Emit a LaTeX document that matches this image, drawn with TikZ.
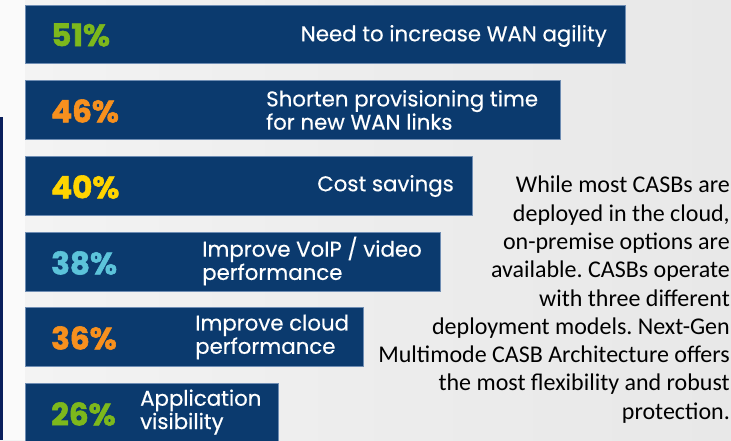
\documentclass[tikz,border=0pt]{standalone}
\usepackage{fontspec}
\setmainfont{Carlito}
\newfontfamily\pop{Poppins}[UprightFeatures={FakeBold=0.4}]
\newfontfamily\popheavy{Poppins}[BoldFeatures={FakeBold=1.8}]
\definecolor{barblue}{HTML}{0B3A6E}
\definecolor{baredge}{HTML}{6F8DB3}
\definecolor{pgreen}{HTML}{7DB81C}
\definecolor{porange}{HTML}{F7901E}
\definecolor{pyellow}{HTML}{FFD400}
\definecolor{pblue}{HTML}{5CC3DA}
\definecolor{navyline}{HTML}{0A1F5C}
\definecolor{bgg}{HTML}{E8E8E8}
\begin{document}
\frenchspacing
\begin{tikzpicture}[x=1pt,y=-1pt,
  barbox/.style={fill=barblue,draw=baredge,line width=0.6pt},
  pct/.style={anchor=west,inner sep=0,font=\popheavy\bfseries\fontsize{31}{33}\selectfont},
  lbl/.style={inner sep=0,text=white,align=left,font=\pop\fontsize{21.3}{23.3}\selectfont},
  para/.style={anchor=north east,inner sep=0,align=right,text=black,font=\fontsize{24}{28.3}\selectfont}]
\useasboundingbox (0,0) rectangle (731,440);
\shade[left color=bgg!50,right color=bgg,middle color=bgg!80] (0,0) rectangle (731,440);
\fill[white,opacity=0.6] (0,0) rectangle (25,440);
\fill[navyline] (0,117) rectangle (3,440);
% bars
\draw[barbox] (25,5) rectangle (625,63) coordinate (bar1);
\draw[barbox] (25,80) rectangle (560,139) coordinate (bar2);
\draw[barbox] (25,156) rectangle (472,215) coordinate (bar3);
\draw[barbox] (25,232) rectangle (440,291) coordinate (bar4);
\draw[barbox] (25,307) rectangle (363,366) coordinate (bar5);
\draw[barbox] (25,383) rectangle (278,442) coordinate (bar6);
% percents
\node[pct,text=pgreen] (p1) at (51,35) {51\%};
\node[pct,text=porange] (p2) at (51,111) {46\%};
\node[pct,text=pyellow] (p3) at (51,187) {40\%};
\node[pct,text=pblue] (p4) at (51,263) {38\%};
\node[pct,text=porange] (p5) at (51,338) {36\%};
\node[pct,text=pgreen] (p6) at (51,414) {26\%};
% labels
\node[lbl,anchor=east] (l1) at (607,36) {Need to increase WAN agility};
\node[lbl,anchor=west] (l2) at (266,110) {Shorten provisioning time\\for new WAN links};
\node[lbl,anchor=east] (l3) at (454,186) {Cost savings};
\node[lbl,anchor=west] (l4) at (202,261) {Improve VoIP / video\\performance};
\node[lbl,anchor=west] (l5) at (195,337) {Improve cloud\\performance};
\node[lbl,anchor=west] (l6) at (140,412) {Application\\visibility};
% paragraph
\node[para] (txt) at (730,176) {While most CASBs are\\deployed in the cloud,\\on-premise options are\\available. CASBs operate\\with three different\\deployment models. Next-Gen\\Multimode CASB Architecture offers\\the most flexibility and robust\\protection.};
\end{tikzpicture}
\end{document}
